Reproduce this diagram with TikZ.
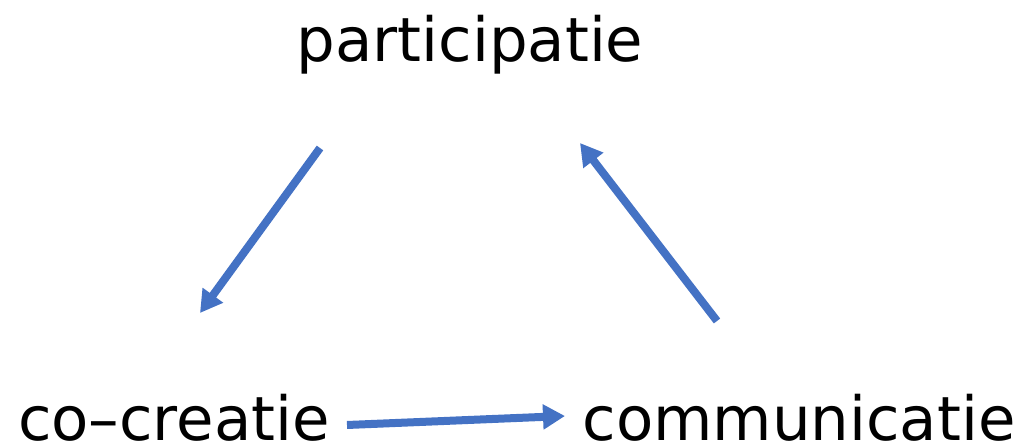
\documentclass[tikz,border=0pt]{standalone}
\usepackage{fontspec}
\setmainfont{DejaVu Sans}
\usetikzlibrary{arrows.meta}
\definecolor{pijlblauw}{HTML}{4472C4}
\tikzset{
  woord/.style={inner sep=0pt,anchor=base,font=\fontsize{34.7}{40}\selectfont},
  pijl/.style={line width=0.16cm,pijlblauw,-{Triangle[length=0.44cm,width=0.48cm]}}
}
\begin{document}
\begin{tikzpicture}[x=0.02cm,y=-0.02cm]
    \useasboundingbox (0,0) rectangle (1023,448);
    \node[woord] (part) at (470,62) {participatie};
    \node[woord] (cocr) at (174,440) {co--creatie};
    \node[woord] (comm) at (799,440) {communicatie};

    \coordinate (p1a) at (320,148);
    \coordinate (p1b) at (200,313);
    \coordinate (p2a) at (347,425);
    \coordinate (p2b) at (565,416);
    \coordinate (p3a) at (717,321);
    \coordinate (p3b) at (580,143);

    \draw[pijl] (p1a)--(p1b);
    \draw[pijl] (p2a)--(p2b);
    \draw[pijl] (p3a)--(p3b);
\end{tikzpicture}
\end{document}
